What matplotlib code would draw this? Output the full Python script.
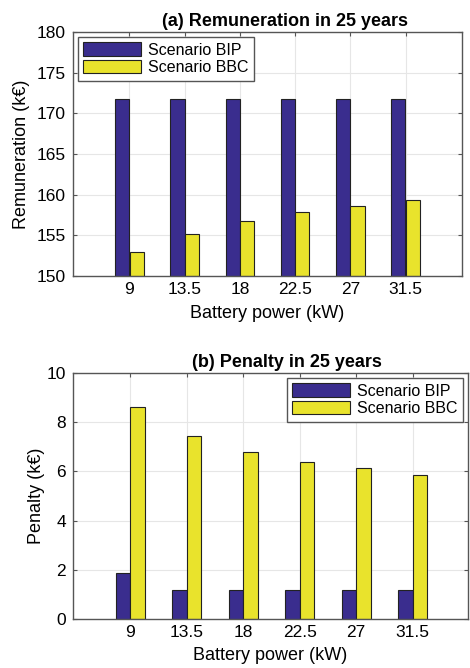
import matplotlib
matplotlib.use("Agg")
import matplotlib.pyplot as plt
import numpy as np

plt.rcParams['font.family'] = ['Liberation Sans', 'DejaVu Sans']

power = [9, 13.5, 18, 22.5, 27, 31.5]
power_labels = ['9', '13.5', '18', '22.5', '27', '31.5']
remun_bip = [171.8, 171.8, 171.8, 171.8, 171.8, 171.8]
remun_bbc = [152.9, 155.2, 156.8, 157.85, 158.6, 159.3]
pen_bip = [1.88, 1.18, 1.17, 1.18, 1.17, 1.17]
pen_bbc = [8.63, 7.45, 6.80, 6.37, 6.14, 5.87]

BLUE = '#3A2D8E'
YELLOW = '#E9E32C'
W, H = 470, 668
fig = plt.figure(figsize=(W/100, H/100), dpi=100)

def px_axes(x0, y0, x1, y1):
    return fig.add_axes([x0/W, 1 - y1/H, (x1-x0)/W, (y1-y0)/H])

def style(ax, ylim, yticks, xlim):
    ax.set_xlim(*xlim)
    ax.set_ylim(*ylim)
    ax.set_yticks(yticks)
    ax.set_xticks(power)
    ax.set_xticklabels(power_labels)
    ax.grid(True, color='#e6e6e6', linewidth=0.8)
    ax.set_axisbelow(True)
    ax.tick_params(direction='in', top=True, right=True, labelsize=12.5,
                   length=3, color='#555555', pad=5)
    ax.tick_params(axis='x', pad=4)
    for s in ax.spines.values():
        s.set_color('#555555')
        s.set_linewidth(1.0)

def add_legend(ax, loc):
    leg = ax.legend(loc=loc, fontsize=11.5, handlelength=3.6, handleheight=0.9,
                    handletextpad=0.45, fancybox=False, edgecolor='#555555',
                    borderaxespad=0.3, labelspacing=0.15, borderpad=0.35,
                    framealpha=1)
    leg.get_frame().set_linewidth(1.0)

bw = 1.15
# (a)
ax1 = px_axes(73, 32, 462, 276)
base = 150
ax1.bar(np.array(power) - 0.58, np.array(remun_bip) - base, bottom=base, width=bw,
        color=BLUE, edgecolor='#222222', linewidth=0.8, label='Scenario BIP')
ax1.bar(np.array(power) + 0.58, np.array(remun_bbc) - base, bottom=base, width=bw,
        color=YELLOW, edgecolor='#222222', linewidth=0.8, label='Scenario BBC')
style(ax1, (150, 180), [150, 155, 160, 165, 170, 175, 180], (4.4, 36.1))
ax1.set_title('(a) Remuneration in 25 years', fontsize=13, fontweight='bold',
              x=0.545, pad=4)
ax1.set_ylabel('Remuneration (k€)', fontsize=13, labelpad=5)
ax1.set_xlabel('Battery power (kW)', fontsize=13, labelpad=6)
add_legend(ax1, 'upper left')

# (b)
ax2 = px_axes(73, 373, 468, 619)
ax2.bar(np.array(power) - 0.58, pen_bip, width=bw,
        color=BLUE, edgecolor='#222222', linewidth=0.8, label='Scenario BIP')
ax2.bar(np.array(power) + 0.58, pen_bbc, width=bw,
        color=YELLOW, edgecolor='#222222', linewidth=0.8, label='Scenario BBC')
style(ax2, (0, 10), [0, 2, 4, 6, 8, 10], (4.45, 35.9))
ax2.set_title('(b) Penalty in 25 years', fontsize=13, fontweight='bold',
              x=0.542, pad=4)
ax2.set_ylabel('Penalty (k€)', fontsize=13, labelpad=1)
ax2.set_xlabel('Battery power (kW)', fontsize=13, labelpad=5)
add_legend(ax2, 'upper right')

fig.savefig('out.png', dpi=100)
